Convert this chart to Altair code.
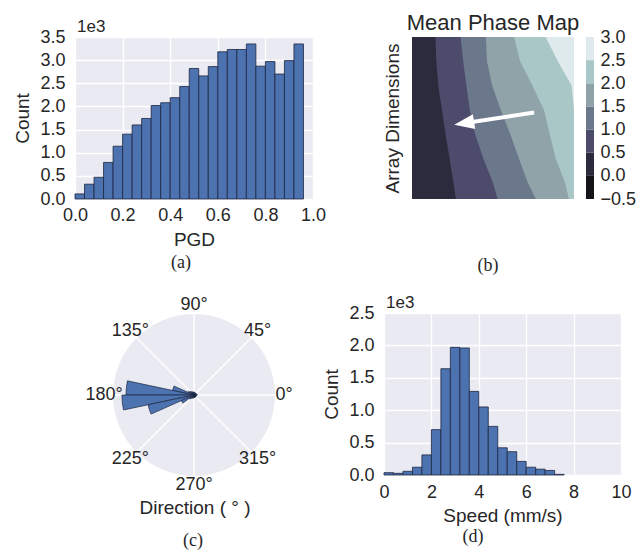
import altair as alt
import pandas as pd

FONT = "Liberation Sans"
SERIF = "Liberation Serif"
TXT = "#262626"
BG = "#EAEAF2"
BAR = "#4C72B0"
EDGE = "#1d2640"

# ---------------- (a) PGD histogram ----------------
pgd_bin_start = [0.00, 0.04, 0.08, 0.12, 0.16, 0.20, 0.24, 0.28, 0.32, 0.36, 0.40, 0.44,
                 0.48, 0.52, 0.56, 0.60, 0.64, 0.68, 0.72, 0.76, 0.80, 0.84, 0.88, 0.92]
pgd_counts = [110, 320, 470, 790, 1140, 1400, 1600, 1740, 2020, 2080, 2190, 2430,
              2820, 2660, 2860, 3180, 3230, 3230, 3350, 2870, 2970, 2700, 2990, 3350]
pgd_bin_width = 0.04
pgd_ticks = [0.0, 0.2, 0.4, 0.6, 0.8, 1.0]
pgd_count_ticks = [0, 500, 1000, 1500, 2000, 2500, 3000, 3500]

# ---------------- (d) speed histogram ----------------
speed_bin_start = [0.0, 0.4, 0.8, 1.2, 1.6, 2.0, 2.4, 2.8, 3.2, 3.6, 4.0, 4.4,
                   4.8, 5.2, 5.6, 6.0, 6.4, 6.8, 7.2]
speed_counts = [36, 26, 57, 120, 310, 700, 1640, 1970, 1960, 1290, 1050, 750,
                420, 360, 210, 120, 90, 70, 10]
speed_bin_width = 0.4
speed_ticks = [0, 2, 4, 6, 8, 10]
speed_count_ticks = [0, 500, 1000, 1500, 2000, 2500]

# ---------------- (c) direction rose ----------------
rose_bin_start = [0, 12, 24, 36, 48, 60, 72, 84, 96, 108, 120, 132, 144, 156, 168,
                  180, 192, 204, 216, 228, 240, 252, 264, 276, 288, 300, 312, 324, 336, 348]
rose_values = [0.04, 0.03, 0.03, 0.03, 0.03, 0.03, 0.03, 0.03, 0.04, 0.04, 0.05, 0.06, 0.08, 0.27, 0.84,
               0.89, 0.58, 0.17, 0.07, 0.05, 0.04, 0.04, 0.03, 0.03, 0.03, 0.03, 0.03, 0.03, 0.03, 0.03]
rose_bin_width = 12
dir_ticks = [0, 45, 90, 135, 180, 225, 270, 315]
dir_labels = ["0°", "45°", "90°", "135°", "180°", "225°", "270°", "315°"]

# ---------------- (b) mean phase map ----------------
map_rows = [1.0, 0.85, 0.70, 0.55, 0.40, 0.25, 0.10, 0.0]
bnd_neg = [0.0, 0.0, 0.0, 0.0, 0.0, 0.0, 0.0, 0.0]
bnd_05 = [0.144, 0.150, 0.162, 0.185, 0.207, 0.232, 0.256, 0.271]
bnd_10 = [0.300, 0.316, 0.336, 0.357, 0.390, 0.440, 0.500, 0.528]
bnd_15 = [0.456, 0.463, 0.495, 0.548, 0.607, 0.660, 0.715, 0.764]
bnd_20 = [0.630, 0.667, 0.743, 0.815, 0.850, 0.887, 0.945, 0.969]
bnd_25 = [0.825, 0.900, 0.985, 1.000, 1.000, 1.000, 1.000, 1.000]
phase_lo = [-0.5, 0.0, 0.5, 1.0, 1.5, 2.0, 2.5]
phase_hi = [0.0, 0.5, 1.0, 1.5, 2.0, 2.5, 3.0]
phase_ticks = [-0.5, 0.0, 0.5, 1.0, 1.5, 2.0, 2.5, 3.0]
phase_colors = ["#141419", "#2b2b3d", "#4d4b6b", "#6b778b", "#8fa3a9", "#aac7c7", "#dfeaed"]
arrow_tail = [0.754, 0.534]
arrow_shaft_end = [0.31, 0.466]
arrow_head = [0.261, 0.458]

captions = ["(a)", "(b)", "(c)", "(d)"]


def count_axis(ticks):
    return alt.Axis(values=ticks, labelExpr="format(datum.value / 1000, '.1f')",
                    title="Count", grid=True, labelPadding=10, titlePadding=7)


def label_text(text, x, y, size=18, font=FONT, align="center"):
    return alt.Chart(pd.DataFrame({"t": [text]})).mark_text(
        font=font, fontSize=size, color=TXT, align=align, baseline="middle").encode(
        text="t:N", x=alt.value(x), y=alt.value(y))


# ---- panel a ----
pgd_df = pd.DataFrame({"start": pgd_bin_start, "count": pgd_counts})
a_bars = alt.Chart(pgd_df).transform_calculate(
    end=f"datum.start + {pgd_bin_width}", zero="0"
).mark_rect(fill=BAR, stroke=EDGE, strokeWidth=0.8).encode(
    x=alt.X("start:Q", scale=alt.Scale(domain=[0, 1], nice=False),
            axis=alt.Axis(values=pgd_ticks, format=".1f", title="PGD", grid=True,
                          labelPadding=7, titlePadding=6)),
    x2="end:Q",
    y=alt.Y("count:Q", scale=alt.Scale(domain=[0, 3500], nice=False),
            axis=count_axis(pgd_count_ticks)),
    y2="zero:Q",
)
panel_a = alt.layer(
    a_bars,
    label_text("1e3", 2, -10, size=17, align="left"),
    label_text(captions[0], 106, 226, font=SERIF),
).properties(width=238, height=162, view=alt.ViewBackground(fill=BG, strokeWidth=0))

# ---- panel b ----
map_recs = []
for k, xs in enumerate([bnd_neg, bnd_05, bnd_10, bnd_15, bnd_20, bnd_25], start=1):
    for yv, xv in zip(map_rows, xs):
        map_recs.append({"band": k, "y": yv, "x": xv})
map_df = pd.DataFrame(map_recs)

B_LEFT = 28  # map starts this far right of the panel origin
PHASE = alt.Scale(domain=[0, 1, 2, 3, 4, 5, 6], range=phase_colors)
MAP_X = alt.Scale(domain=[0, 1], range=[B_LEFT, B_LEFT + 162], nice=False)
MAP_Y = alt.Scale(domain=[0, 1], nice=False)
MAP_AXIS = alt.Axis(title="Array Dimensions", labels=False, ticks=False, grid=False,
                    domain=False, titlePadding=9.5, offset=-B_LEFT)

band_layers = []
for k in range(1, 7):
    band_layers.append(
        alt.Chart(map_df).transform_filter(f"datum.band == {k}").transform_calculate(
            right="1"
        ).mark_area(orient="horizontal").encode(
            y=alt.Y("y:Q", scale=MAP_Y, axis=MAP_AXIS, title="Array Dimensions"),
            x=alt.X("x:Q", scale=MAP_X, axis=None, stack=False),
            x2="right:Q",
            color=alt.Color("band:O", scale=PHASE, legend=None),
        )
    )

arrow_df = pd.DataFrame({"x1": [arrow_tail[0]], "y1": [arrow_tail[1]],
                         "x2": [arrow_shaft_end[0]], "y2": [arrow_shaft_end[1]],
                         "hx": [arrow_head[0]], "hy": [arrow_head[1]]})
arrow_shaft = alt.Chart(arrow_df).mark_rule(color="white", strokeWidth=4).encode(
    x=alt.X("x1:Q", scale=MAP_X, axis=None),
    y=alt.Y("y1:Q", scale=MAP_Y, axis=MAP_AXIS, title="Array Dimensions"),
    x2="x2:Q", y2="y2:Q")
arrow_tip = alt.Chart(arrow_df).mark_point(
    shape="M0,0L2,-0.75L2,0.75Z", size=400, filled=True, fill="white",
    opacity=1, strokeWidth=0, angle=351).encode(
    x=alt.X("hx:Q", scale=MAP_X, axis=None),
    y=alt.Y("hy:Q", scale=MAP_Y, axis=MAP_AXIS, title="Array Dimensions"))

map_layer = alt.layer(*band_layers, arrow_shaft, arrow_tip)

cbar_df = pd.DataFrame({"band": list(range(7)), "lo": phase_lo, "hi": phase_hi})
cbar = alt.Chart(cbar_df).mark_rect().encode(
    y=alt.Y("lo:Q", scale=alt.Scale(domain=[-0.5, 3.0], nice=False),
            axis=alt.Axis(orient="right", offset=20, values=phase_ticks, format=".1f",
                          labelPadding=6, grid=False), title=None),
    y2="hi:Q",
    x=alt.value(B_LEFT + 174), x2=alt.value(B_LEFT + 182),
    color=alt.Color("band:O", scale=PHASE, legend=None),
)

panel_b = alt.layer(
    map_layer, cbar,
    label_text("Mean Phase Map", B_LEFT + 81, -14, size=22),
    label_text(captions[1], B_LEFT + 76, 229, font=SERIF),
).resolve_scale(y="independent").properties(width=B_LEFT + 162, height=162)

# ---- panel c ----
CX, CY = 119, 82
THETA = alt.Scale(domain=[450, 90], range=[0, 6.283185307179586])
RAD = alt.Scale(type="linear", domain=[0, 1], range=[0, 81], zero=True)

disc = alt.Chart(pd.DataFrame({"t0": [0], "t1": [360]})).mark_arc(
    radius=81, fill=BG).encode(
    theta=alt.Theta("t0:Q", scale=THETA, stack=False), theta2="t1:Q",
    x=alt.value(CX), y=alt.value(CY))

spoke_df = pd.DataFrame({"a": dir_ticks})
spokes = alt.Chart(spoke_df).transform_calculate(a1="datum.a + 0.05").mark_arc(
    radius=81, fillOpacity=0, stroke="white", strokeWidth=1.4).encode(
    theta=alt.Theta("a:Q", scale=THETA, stack=False), theta2="a1:Q",
    x=alt.value(CX), y=alt.value(CY))

rose_df = pd.DataFrame({"start": rose_bin_start, "val": rose_values})
rose = alt.Chart(rose_df).transform_calculate(
    end=f"datum.start + {rose_bin_width}").mark_arc(
    fill=BAR, stroke=EDGE, strokeWidth=0.7).encode(
    theta=alt.Theta("start:Q", scale=THETA, stack=False), theta2="end:Q",
    radius=alt.Radius("val:Q", scale=RAD),
    x=alt.value(CX), y=alt.value(CY))

lab_df = pd.DataFrame({"angle": dir_ticks, "label": dir_labels})
dir_text = alt.Chart(lab_df).mark_text(font=FONT, fontSize=18, color=TXT).encode(
    theta=alt.Theta("angle:Q", scale=THETA, stack=False),
    radius=alt.value(90), text="label:N",
    x=alt.value(CX), y=alt.value(CY))

panel_c = alt.layer(
    disc, spokes, rose, dir_text,
    label_text("Direction ( ° )", 120, 195, size=19),
    label_text(captions[2], 118, 228, font=SERIF),
).properties(width=210, height=164)

# ---- panel d ----
speed_df = pd.DataFrame({"start": speed_bin_start, "count": speed_counts})
d_bars = alt.Chart(speed_df).transform_calculate(
    end=f"datum.start + {speed_bin_width}", zero="0"
).mark_rect(fill=BAR, stroke=EDGE, strokeWidth=0.8).encode(
    x=alt.X("start:Q", scale=alt.Scale(domain=[0, 10], nice=False),
            axis=alt.Axis(values=speed_ticks, format="d", title="Speed (mm/s)", grid=True,
                          labelPadding=8, titlePadding=5)),
    x2="end:Q",
    y=alt.Y("count:Q", scale=alt.Scale(domain=[0, 2500], nice=False),
            axis=count_axis(speed_count_ticks)),
    y2="zero:Q",
)
panel_d = alt.layer(
    d_bars,
    label_text("1e3", 2, -10, size=17, align="left"),
    label_text(captions[3], 89, 224, font=SERIF),
).properties(width=237, height=162, view=alt.ViewBackground(fill=BG, strokeWidth=0))

chart = alt.concat(
    panel_a, panel_b, panel_c, panel_d,
    columns=2, bounds="flush", align="none",
    spacing={"row": 114, "column": 71},
).properties(
    padding={"left": 13, "top": 12, "right": 0, "bottom": 0},
    background="white",
).configure_view(strokeWidth=0).configure_axis(
    labelFont=FONT, titleFont=FONT, labelFontSize=18, titleFontSize=19,
    labelColor=TXT, titleColor=TXT, titleFontWeight="normal",
    domain=False, ticks=False, tickSize=0, gridColor="white", gridWidth=1.3,
    labelFlush=False, labelOverlap=False,
)

chart.save("out.html", embed_options={"renderer": "svg", "actions": False})
